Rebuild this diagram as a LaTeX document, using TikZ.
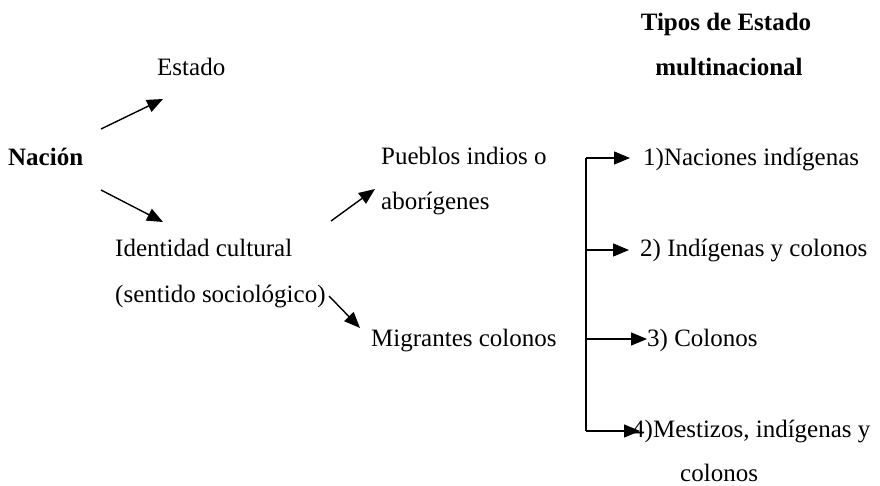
\documentclass[tikz,border=0pt]{standalone}
\usepackage{fontspec}
\setmainfont{Liberation Serif}
\usetikzlibrary{arrows.meta, positioning}

\begin{document}
\begin{tikzpicture}[x=1pt, y=-1pt,
        every node/.style={inner sep=0pt, anchor=base west, font=\fontsize{25}{30}\selectfont},
        txtb/.style={font=\fontsize{25}{30}\selectfont\bfseries},
        arr/.style={-{Triangle[length=16pt, width=13pt]}, line width=1.4pt},
        brk/.style={line width=1.6pt}]
        \useasboundingbox (0,0) rectangle (880,486);
        % left part
        \node[txtb] (nacion) at (8,166) {Nación};
        \node (estado) at (157,76) {Estado};
        \node (ident) at (115,257) {Identidad cultural};
        \node (sent) at (115,302) {(sentido sociológico)};
        \node (pueblos) at (381,165) {Pueblos indios o};
        \node (abor) at (381,210) {aborígenes};
        \node (migr) at (371,346) {Migrantes colonos};
        % right part
        \node[txtb, anchor=base] (tit1) at (726,31) {Tipos de Estado};
        \node[txtb, anchor=base] (tit2) at (729,76) {multinacional};
        \node (t1) at (643,166) {1)Naciones indígenas};
        \node (t2) at (640,257) {2) Indígenas y colonos};
        \node (t3) at (647,346) {3) Colonos};
        \node (t4) at (632,437) {4)Mestizos, indígenas y};
        \node (t5) at (680,481) {colonos};
        % arrow ends
        \coordinate (a1) at (101,129);
        \coordinate (a1e) at (163,99);
        \coordinate (a2) at (101,190);
        \coordinate (a2e) at (163,222);
        \coordinate (a3) at (331,221);
        \coordinate (a3e) at (375,189);
        \coordinate (a4) at (329,296);
        \coordinate (a4e) at (360,328);
        \draw[arr] (a1) -- (a1e);
        \draw[arr] (a2) -- (a2e);
        \draw[arr] (a3) -- (a3e);
        \draw[arr] (a4) -- (a4e);
        % bracket
        \coordinate (b1) at (586,158);
        \coordinate (b2) at (586,250);
        \coordinate (b3) at (586,339);
        \coordinate (b4) at (586,431);
        \draw[brk] (b1) -- (b4);
        \draw[arr] (b1) -- (b1 -| t1.west) [shorten >=13pt];
        \draw[arr] (b2) -- (b2 -| t2.west) [shorten >=11pt];
        \draw[arr] (b3) -- (b3 -| t3.west);
        \draw[arr] (b4) -- (b4 -| t4.west) [shorten >=-8pt];
\end{tikzpicture}
\end{document}
